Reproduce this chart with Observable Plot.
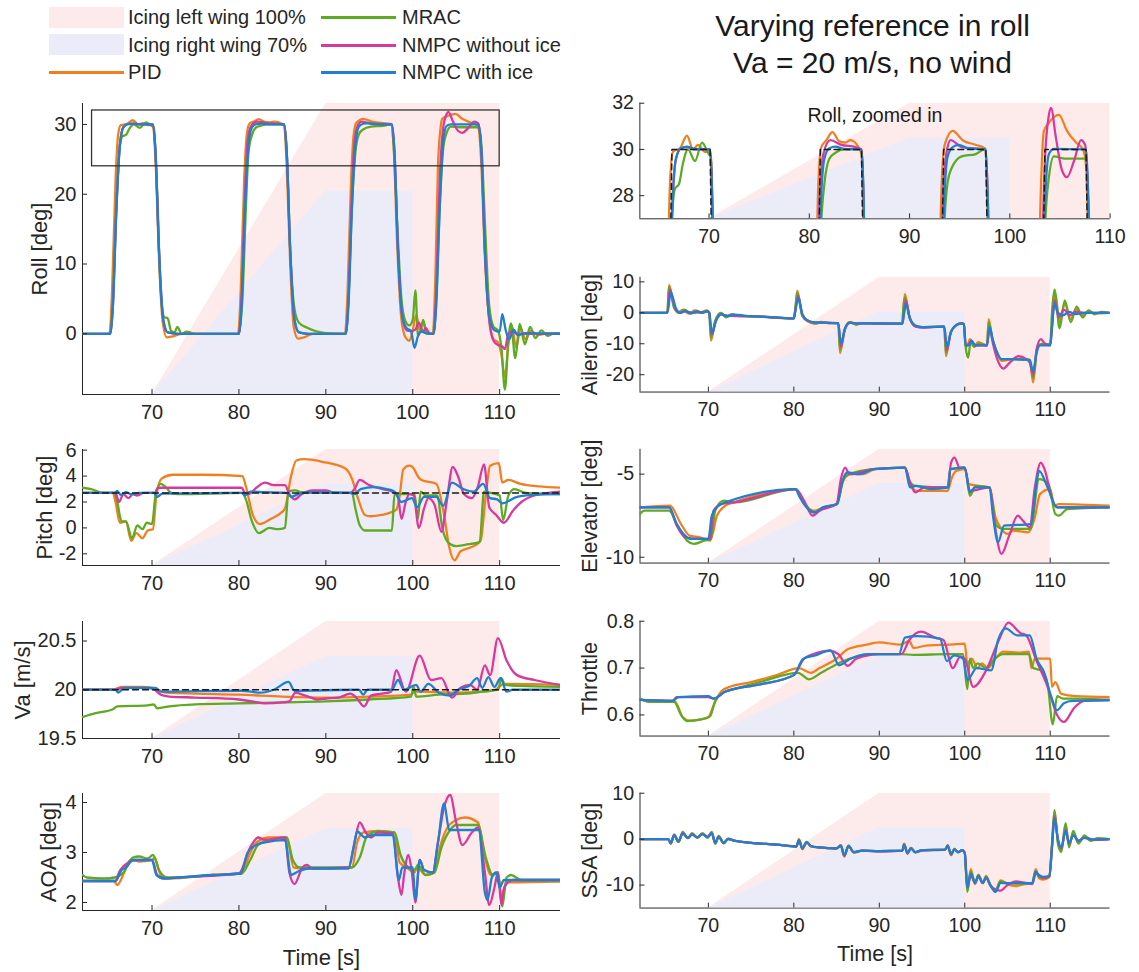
<!DOCTYPE html>
<html><head><meta charset="utf-8">
<script src="https://cdn.jsdelivr.net/npm/d3@7"></script>
<script src="https://cdn.jsdelivr.net/npm/@observablehq/plot@0.6"></script>
<style>
body{margin:0;background:#fff;font-family:"Liberation Sans",Arial,Helvetica,sans-serif;color:#262626}
#root{position:relative;width:1139px;height:972px;overflow:hidden;background:#fff}
.pnl{position:absolute}
.lg{position:absolute;font-size:20px;line-height:22px;transform:translateY(-50%);white-space:nowrap}
.sw{position:absolute}
#title{position:absolute;left:600px;width:545px;top:7px;text-align:center;font-size:30px;line-height:37px;color:#1a1a1a}
</style></head><body><div id="root"></div>
<script>
// ---------- labels / ticks ----------
const seriesNames = ["PID", "MRAC", "NMPC without ice", "NMPC with ice"];
const seriesColors = ["#F0801E", "#5DAA23", "#D63A9C", "#2080CE"];
const icingNames = ["Icing left wing 100%", "Icing right wing 70%"];
const icingColors = ["#fdeaea", "#ebebf9"];
const xTicks = [70, 80, 90, 100, 110];
// icing ramps: time and fraction of axis height
const icingLeftT = [70, 90, 110], icingLeftLevel = [0, 1, 1];
const icingRightT = [70, 90, 100], icingRightLevel = [0, 0.7, 0.7];

// ---------- Roll ----------
const rollRef = [[62,0],[65.2,0],[66.3,30],[70.1,30],[71.2,0],[80.0,0],[81.1,30],[85.2,30],[86.3,0],[92.3,0],[93.4,30],[97.6,30],[98.7,0],[102.4,0],[103.5,30],[107.6,30],[108.7,0],[117,0]];
const rollPID = [[62,0],[65.1,0],[65.4,6],[65.8,22],[66.1,28.5],[66.4,29.9],[67.1,30.05],[67.8,30.6],[68.4,30.0],[68.9,30.2],[69.6,29.9],[70.1,29.9],[70.4,25],[70.8,11],[71.2,2],[71.7,-0.5],[72.3,-0.4],[73.5,0],
 [79.9,0],[80.2,6],[80.6,22],[80.9,28.5],[81.2,30.1],[81.7,30.4],[82.3,30.75],[83.0,30.35],[83.6,30.3],[84.1,30.4],[84.9,30.1],[85.2,29.8],[85.5,24],[85.9,10],[86.3,1],[86.8,-0.7],[87.5,-0.5],[88.5,0],
 [92.2,0],[92.5,6],[92.9,22],[93.2,28.5],[93.5,30.2],[94.3,30.8],[95.3,30.4],[96.6,30.2],[97.5,30.05],[97.8,27],[98.2,13],[98.7,2],[99.2,-0.6],[99.6,-1],[100.0,0.5],[100.4,2.7],[100.8,0.6],[101.2,1.6],[101.6,0.2],[102.3,0],
 [102.6,8],[102.9,24],[103.2,29.5],[103.4,30.8],[103.8,31.1],[104.9,31.5],[105.7,30.8],[106.6,30.3],[107.3,30.0],[107.6,29.3],[107.9,24],[108.3,11],[108.8,2],[109.3,-0.8],[109.8,-1.2],[110.2,-3],[110.6,-6.2],[111.0,-1.5],[111.4,1.2],[111.9,-2],[112.4,0.8],[113.0,-0.8],[113.6,0.4],[114.4,-0.2],[115.5,0.1],[117,0]];
const rollMRAC = [[62,0],[65.2,0],[65.5,5],[65.9,18],[66.3,27],[66.6,28.3],[67.0,28.5],[67.4,29.4],[67.9,30.0],[68.6,29.5],[69.3,30.3],[69.9,29.85],[70.2,29.6],[70.6,20],[71.0,6],[71.4,2.4],[71.8,2.2],[72.2,0.4],[72.6,0.2],[72.9,1],[73.4,0],[74,0.3],[75,0],
 [80.0,0],[80.4,5],[80.8,18],[81.1,26],[81.5,28.5],[82.0,29.6],[82.6,29.85],[83.5,30],[85.2,30],[85.5,26],[85.9,12],[86.4,3.5],[86.9,1.6],[87.8,0.9],[88.8,0.4],[90,0.1],[92.3,0],
 [92.6,5],[93.0,18],[93.4,26],[93.8,28.6],[94.2,29.2],[95.2,29.7],[96.6,29.8],[97.5,30],[97.8,27],[98.2,16],[98.7,5],[99.1,2],[99.6,1.2],[100.0,2],[100.3,6.2],[100.6,-0.3],[100.9,0.5],[101.2,2],[101.6,0],[102.4,0],
 [102.7,5],[103.1,18],[103.5,26.5],[103.9,28.8],[104.4,29.7],[105.5,29.6],[107.6,29.6],[107.9,27],[108.3,16],[108.8,4],[109.3,1],[109.8,0.5],[110.2,-2],[110.6,-8],[111.0,-1],[111.3,1.5],[111.8,-3.5],[112.3,1.4],[112.9,-1.5],[113.5,1],[114.1,-0.6],[114.8,0.5],[115.5,-0.3],[116.3,0.1],[117,0]];
const rollNMPCwo = [[62,0],[65.2,0],[65.5,4],[65.9,18],[66.3,27],[66.7,29.6],[67.2,30.05],[67.8,30.1],[68.6,30],[70.1,30],[70.4,26],[70.8,12],[71.3,2],[71.8,0.2],[73,0],
 [80.0,0],[80.3,5],[80.7,20],[81.0,27.5],[81.4,29.8],[82.1,30.4],[83.2,30.2],[84.6,30.1],[85.2,30],[85.5,26],[85.9,12],[86.4,2],[86.9,0.2],[88,0],
 [92.3,0],[92.6,5],[93.0,20],[93.3,27.5],[93.7,29.9],[94.1,30.4],[95.2,30.1],[97.6,30],[97.9,26],[98.3,12],[98.8,2.5],[99.3,0.5],[99.8,0.4],[100.3,0.6],[100.7,1.6],[101.2,0.3],[101.5,0.8],[102.0,0],[102.4,0],
 [102.7,6],[103.1,22],[103.5,29.5],[103.9,31.5],[104.1,31.8],[104.6,30.5],[105.2,29.1],[105.7,28.8],[106.4,29.5],[107.1,30.4],[107.5,30.2],[107.9,26],[108.3,12],[108.8,2],[109.3,-1],[109.8,-1.6],[110.3,-1.8],[110.6,-2.2],[111.0,0],[111.5,0.3],[112,0],[117,0]];
const rollNMPC = [[62,0],[65.2,0],[65.5,4],[65.9,18],[66.3,27],[66.7,29.6],[67.2,30.05],[67.8,30.12],[68.6,30.02],[70.1,30],[70.4,26],[70.8,12],[71.3,2],[71.8,0.2],[73,0],
 [80.0,0],[80.3,4],[80.7,18],[81.1,27],[81.5,29.6],[82.0,30.05],[82.6,30.12],[83.5,30.02],[85.2,30],[85.5,26],[85.9,12],[86.4,2],[86.9,0.2],[88,0],
 [92.3,0],[92.6,4],[93.0,18],[93.4,27],[93.8,29.7],[94.3,30.1],[94.9,30.2],[95.8,30.05],[97.6,30],[97.9,26],[98.3,12],[98.8,2.5],[99.3,0.8],[99.8,0.4],[100.2,-2],[100.6,-0.3],[101.0,0.3],[101.5,0.1],[102.4,0],
 [102.7,4],[103.1,18],[103.5,27.5],[103.9,29.8],[104.4,30.02],[107.6,30],[107.9,26],[108.3,12],[108.8,2.5],[109.4,0.5],[110.0,0.3],[110.3,2.8],[110.7,0.5],[111.1,-0.8],[111.6,0.6],[112.1,-0.2],[113,0.1],[117,0]];
const zoomBox = [{t0: 63.1, t1: 110, lo: 24, hi: 32}];

// ---------- Aileron ----------
const ailPID = [[62,0],[65.2,0],[65.4,9],[66,2],[66.5,0.2],[67,1],[67.7,-0.3],[68.4,0.8],[69,0],[69.8,0.8],[70.1,0],[70.3,-9],[70.8,-3],[71.4,0],[72,-1.3],[72.7,-0.4],[73.5,-1],[76,-1.2],[80,-1.8],[80.2,2],[80.4,7.2],[81,-1],[81.6,-2.7],[82.4,-3.4],[83.2,-2.9],[84,-3.3],[85.2,-3.3],[85.4,-13],[85.9,-6],[86.5,-3],[87.3,-3.8],[88,-3.3],[92.7,-3.5],[92.8,1],[93,6],[93.5,-1],[94.2,-4.3],[95,-4.6],[97.6,-4.5],[97.8,-14],[98.3,-7],[99,-4],[99.6,-3.4],[99.9,-3.7],[100.1,-11],[100.4,-10],[100.6,-8.5],[101.0,-10.8],[101.6,-9.5],[102.6,-10.5],[102.8,-2],[103.2,-8],[103.8,-13],[104.3,-15.5],[105.5,-15],[106.5,-14.8],[107.6,-15.3],[108,-22.5],[108.5,-11],[109,-10],[110,-10.2],[110.3,0],[110.6,6],[111.1,-3],[111.7,3],[112.4,-2],[113,1.2],[113.7,-1],[114.4,0.5],[115.2,-0.2],[117,0]];
const ailMRAC = [[62,0],[65.2,0],[65.4,8.5],[66,1.5],[66.6,0],[67.2,1],[67.9,-0.2],[68.6,0.7],[69.3,0],[69.9,0.7],[70.1,0],[70.3,-8],[70.8,-2.5],[71.5,0],[72.1,-1.5],[72.8,-0.5],[73.6,-1.1],[76,-1.2],[80,-1.8],[80.2,2],[80.4,6.5],[81,-1],[81.7,-2.6],[82.5,-3.5],[83.3,-3],[84,-3.3],[85.2,-3.3],[85.4,-12],[85.9,-6],[86.5,-3],[87.3,-3.8],[88,-3.3],[92.7,-3.5],[92.8,1],[93,5],[93.5,-1],[94.2,-4.3],[95,-4.6],[97.6,-4.5],[97.8,-13],[98.3,-7],[99,-4],[99.6,-3.4],[99.9,-3.7],[100.1,-11],[100.4,-14.5],[100.7,-9],[101.1,-11],[101.6,-10],[102.6,-10.5],[102.8,-3],[103.2,-8],[103.8,-13],[104.3,-15],[105.5,-15],[107.6,-15.2],[108,-21],[108.5,-11],[109,-10],[110,-10.2],[110.2,0],[110.5,7.5],[111.1,-5],[111.7,4],[112.4,-3],[113.1,2],[113.8,-1.5],[114.5,0.8],[115.2,-0.5],[116,0.3],[117,0]];
const ailNMPCwo = [[62,0],[65.2,0],[65.5,7.5],[66.1,1.5],[66.7,0],[67.3,0.5],[68.2,0],[69.9,0.4],[70.1,0],[70.4,-7],[70.9,-2.5],[71.5,-0.5],[72.2,-1],[75,-1.1],[80,-1.8],[80.2,1],[80.5,5.5],[81,-0.5],[81.6,-2.5],[82.5,-3.2],[85.2,-3.3],[85.5,-11],[86,-5],[86.6,-3.2],[87.5,-3.4],[92.7,-3.5],[92.9,0],[93.1,4],[93.6,-2],[94.3,-4.5],[95,-4.8],[97.6,-4.5],[97.9,-12],[98.4,-6],[99,-4],[99.6,-3.4],[99.9,-3.6],[100.1,-10.5],[100.5,-10],[100.8,-9],[101.2,-10.5],[102.6,-10.5],[102.9,-5],[103.3,-10],[103.8,-15],[104.5,-18],[105.3,-16],[106.3,-14],[107.2,-15],[107.6,-16],[108,-20],[108.4,-12],[108.9,-8.5],[109.4,-10],[110,-10.5],[110.2,-5],[110.5,4],[111,-1.5],[111.6,1],[112.3,-0.8],[113,0.3],[114,0],[117,0]];
const ailNMPC = [[62,0],[65.2,0],[65.6,6.5],[66.2,1.5],[66.7,0],[67.3,0.6],[68,-0.2],[68.6,0.4],[69.3,0],[69.9,0.5],[70.1,0],[70.4,-6.5],[70.9,-2.5],[71.5,-0.5],[72.2,-1],[73,-0.6],[75,-1.1],[78,-1.5],[80,-1.8],[80.2,1],[80.5,4.8],[81,-0.5],[81.6,-2.5],[82.5,-3.1],[84,-3.2],[85.2,-3.3],[85.5,-10],[86,-5],[86.6,-3.2],[87.5,-3.4],[92.7,-3.5],[92.9,0],[93.1,3],[93.6,-2],[94.3,-4.2],[95,-4.6],[97.6,-4.5],[97.9,-11],[98.4,-6],[99,-4],[99.6,-3.4],[99.9,-3.6],[100.1,-10.5],[100.5,-10.5],[100.8,-9],[101.2,-10.5],[102.6,-10.5],[102.9,-4.5],[103.3,-9],[103.8,-13],[104.3,-15],[105.5,-15],[107.6,-15.2],[108,-19],[108.4,-13],[108.8,-10.5],[110,-10.5],[110.2,-5],[110.5,3],[110.9,0],[111.5,-0.8],[112.2,0.3],[113,-0.4],[114,0],[117,0]];

// ---------- Pitch ----------
const pitchRef = [[62,2.7],[117,2.7]];
const pitchPID = [[62,2.7],[65.5,2.7],[65.8,2.0],[66.3,0.4],[67.0,0.5],[67.6,-1.0],[68.2,-0.4],[68.9,-0.8],[69.5,-0.2],[70.1,-0.1],[70.5,2.5],[71.1,3.8],[72.4,4.1],[75.8,4.1],[80.4,4.0],[80.8,3.2],[81.6,1.0],[82.4,0.3],[83.7,0.7],[84.9,1.2],[85.3,1.5],[86.0,4.0],[86.6,5.2],[87.5,5.3],[89.6,5.1],[92.2,4.6],[93.0,3.8],[93.6,2.5],[94.5,1.0],[95.1,0.9],[96.4,1.0],[98.1,1.4],[98.5,2.5],[98.9,4.5],[99.6,4.8],[100.2,4.5],[100.4,4.2],[101.0,3.7],[102.7,3.4],[103.6,1.0],[104.2,-1.5],[104.8,-2.5],[105.5,-1.8],[106.7,-1.5],[107.8,-1.0],[108.4,2.5],[108.9,4.8],[109.9,5.0],[110.3,3.5],[111.0,3.7],[112.4,3.4],[114.5,3.2],[117,3.1]];
const pitchMRAC = [[62,3.1],[63,3.0],[64.3,2.7],[65.7,2.7],[66.0,2.0],[66.5,0.5],[67.0,0.5],[67.7,-0.8],[68.3,0.2],[68.9,-0.1],[69.4,0.4],[70.0,0.3],[70.4,2.5],[71.0,3.4],[71.5,3.2],[72.2,2.7],[73,2.6],[80.4,2.7],[80.8,2.2],[81.5,0.5],[82.3,-0.4],[83.5,0],[84.5,-0.1],[85.3,0],[85.7,2.8],[86.5,2.9],[87.2,2.75],[93.0,2.7],[93.4,1.5],[93.9,0.2],[94.5,-0.2],[97.6,-0.2],[97.9,2.6],[100.2,2.6],[100.6,0.7],[100.9,2.8],[101.5,2.5],[102.8,2.5],[103.4,0],[104.2,-1.2],[105.0,-1.4],[106.0,-1.3],[107.7,-1.1],[108.2,2.8],[109.0,2.7],[110.0,2.5],[110.4,0.6],[111.0,2.5],[111.7,3.0],[113.0,2.7],[117,2.6]];
const pitchNMPCwo = [[62,2.7],[65.8,2.7],[66.2,2.0],[66.7,2.6],[67.3,2.3],[67.8,2.6],[68.3,2.5],[69,2.7],[70.3,2.7],[70.7,3.1],[71.5,3.1],[80.3,3.1],[80.7,2.7],[81.1,2.6],[82.0,3.1],[83.0,3.5],[84.0,3.3],[85.3,3.3],[85.8,2.6],[86.4,2.2],[87.2,2.6],[88.5,2.9],[90,2.9],[91,2.7],[92.8,2.7],[93.3,3.0],[93.9,3.7],[95,3.3],[96.5,3.0],[97.7,2.8],[98.3,2.4],[98.7,0.7],[99.2,2.0],[99.6,2.6],[100.1,2.5],[100.7,0],[101.3,1.5],[101.8,2.3],[102.5,1.8],[103.3,-0.3],[103.9,2.0],[104.6,4.7],[105.2,4.0],[105.9,2.6],[106.8,2.3],[107.5,3.2],[108.2,4.9],[108.8,1.6],[109.6,1.0],[110.5,0.4],[111.5,1.3],[112.5,2.0],[114,2.5],[117,2.8]];
const pitchNMPC = [[62,2.7],[65.7,2.7],[66.0,2.85],[66.4,2.55],[67.0,2.75],[67.6,2.6],[68.5,2.7],[70.2,2.7],[70.6,2.4],[71.2,2.65],[80.3,2.7],[80.7,2.5],[81.3,2.8],[83,2.75],[85.5,2.7],[86.0,2.4],[86.8,2.6],[88,2.75],[92.8,2.7],[93.3,2.6],[94.0,3.0],[95.5,3.15],[97.0,3.0],[97.9,2.8],[98.7,2.0],[99.9,2.3],[100.5,1.6],[101.3,2.4],[102.7,2.4],[103.5,1.7],[104.5,3.5],[105.8,3.0],[107.0,2.8],[108.1,3.4],[108.9,2.3],[109.7,2.2],[110.3,1.9],[112.0,2.4],[114,2.55],[117,2.6]];

// ---------- Elevator ----------
const elevPID = [[62,-7.0],[65.5,-6.9],[66.8,-8.0],[67.8,-8.7],[69.0,-8.8],[70.2,-9.0],[70.5,-8.6],[71.0,-7.5],[72.0,-6.9],[73.0,-6.7],[80.2,-5.9],[81.2,-6.8],[82.4,-7.2],[83.5,-7.0],[85.0,-6.8],[85.8,-5.4],[86.5,-5.0],[88.0,-5.0],[89.5,-4.7],[93.0,-4.6],[93.6,-5.5],[94.3,-6.0],[98.0,-6.0],[98.5,-5.2],[99.0,-4.8],[100.0,-4.7],[100.5,-5.6],[102.9,-5.8],[103.6,-7.6],[104.3,-8.3],[105.0,-8.6],[105.7,-8.4],[107.4,-8.5],[108.2,-7.6],[108.8,-6.2],[110.0,-5.9],[110.5,-6.9],[111.0,-6.8],[117,-6.9]];
const elevMRAC = [[62,-7.4],[62.5,-7.2],[65.4,-7.2],[66.3,-8.0],[67.5,-9.0],[68.3,-9.2],[69.5,-9.0],[70.3,-8.9],[70.8,-7.2],[71.8,-6.6],[73.0,-6.7],[80.2,-5.9],[81.5,-6.9],[82.3,-7.3],[83.5,-7.0],[85.0,-6.8],[85.8,-5.3],[86.5,-5.0],[89.3,-4.7],[93.0,-4.6],[93.5,-5.4],[94.2,-5.7],[98.0,-5.8],[98.3,-4.7],[100.0,-4.6],[100.6,-6.3],[101.3,-5.7],[102.9,-5.8],[103.7,-8.1],[104.5,-8.3],[107.7,-8.3],[108.7,-5.3],[109.8,-5.6],[110.6,-7.4],[111.0,-7.5],[112.0,-7.1],[117,-7.0]];
const elevNMPCwo = [[62,-7.0],[65.4,-7.0],[66.3,-8.1],[67.3,-8.8],[69.0,-8.9],[70.2,-8.9],[70.6,-7.2],[71.5,-6.8],[73.0,-6.7],[80.2,-5.9],[81.2,-6.6],[82.2,-7.5],[83.0,-7.2],[85.0,-6.8],[85.5,-5.3],[86.0,-4.6],[86.5,-5.0],[89.3,-4.7],[93.0,-4.6],[93.6,-5.5],[94.2,-6.1],[95.3,-5.8],[98.0,-5.8],[98.4,-4.3],[98.8,-4.0],[99.4,-4.6],[100.0,-4.6],[100.6,-6.0],[102.9,-5.8],[103.5,-8.0],[104.3,-9.8],[105.2,-8.7],[106.2,-7.5],[106.8,-7.8],[107.6,-8.2],[108.2,-5.8],[108.9,-4.3],[109.4,-4.8],[110.2,-6.5],[110.9,-7.0],[117,-7.0]];
const elevNMPC = [[62,-7.0],[65.4,-7.0],[66.3,-8.0],[67.1,-8.6],[67.9,-8.9],[70.0,-8.9],[70.4,-7.5],[71.2,-6.9],[72.0,-6.7],[80.2,-5.9],[80.6,-6.3],[81.9,-7.2],[82.5,-7.3],[83.4,-7.0],[85.1,-6.8],[85.7,-5.4],[86.3,-4.9],[87.6,-5.0],[89.3,-4.7],[93.0,-4.6],[93.6,-5.8],[94.3,-5.7],[96.0,-5.9],[98.1,-5.8],[98.3,-4.7],[100.0,-4.6],[100.6,-6.1],[101.2,-5.8],[102.9,-5.8],[103.3,-7.5],[103.9,-9.1],[104.6,-8.1],[107.7,-8.0],[108.5,-5.2],[108.7,-4.8],[109.7,-5.8],[110.8,-7.0],[117,-7.0]];

// ---------- Va ----------
const vaRef = [[62,20],[117,20]];
const vaPID = [[62,20.0],[65.5,20.0],[66.5,20.03],[69,20.03],[70.5,20.01],[71.5,19.97],[75,19.96],[80,19.95],[85,19.93],[90,19.92],[95,19.93],[99.8,19.95],[100.2,19.98],[105,19.97],[108,19.98],[109.5,20.0],[110.5,20.06],[117,20.05]];
const vaMRAC = [[62,19.72],[63.5,19.76],[65.5,19.8],[66,19.83],[69.5,19.84],[70.2,19.85],[70.6,19.81],[72,19.83],[75,19.85],[80,19.86],[85,19.87],[90,19.88],[95,19.9],[99.8,19.93],[100.1,20.03],[100.4,19.93],[103,19.95],[106,19.96],[108,19.98],[109.8,20.0],[110.2,20.12],[110.6,20.05],[112,20.04],[117,20.03]];
const vaNMPCwo = [[62,20.0],[65.7,20.0],[66.5,20.02],[69.5,20.02],[70.3,20.0],[71,19.95],[72,19.93],[75,19.92],[80,19.9],[81.5,19.88],[83,19.86],[85,19.87],[85.8,19.88],[86.5,19.97],[87.3,19.95],[88.3,19.92],[89,19.9],[90,19.91],[91.5,19.92],[92.8,19.96],[93.5,19.92],[94.4,19.83],[95.2,19.94],[96.5,19.96],[97.5,19.98],[98.1,20.2],[99.2,19.98],[100.8,20.35],[102.1,20.1],[103.3,20.12],[104.5,19.92],[105.5,20.02],[106.6,20.05],[107.4,20.0],[108.3,20.25],[108.9,20.15],[109.8,20.53],[110.8,20.3],[112.0,20.15],[114,20.1],[117,20.05]];
const vaNMPC = [[62,20.0],[65.8,20.0],[66.1,19.97],[66.8,20.02],[70.4,20.02],[71,19.98],[80.3,19.99],[82.5,19.97],[84,20.0],[85.7,20.08],[86.4,19.99],[93.8,20.0],[94.3,19.95],[94.8,20.0],[97.6,20.0],[98.3,20.1],[99.0,20.0],[100.4,20.05],[100.9,19.98],[101.8,20.06],[103.0,19.97],[104.3,19.94],[105.2,20.0],[106.5,20.04],[107.4,20.12],[108.0,20.02],[108.7,20.13],[109.4,20.03],[110.1,20.12],[110.8,19.98],[111.5,20.0],[117,20.0]];

// ---------- Throttle ----------
const thrPID = [[62,0.632],[66,0.63],[66.4,0.62],[67.0,0.595],[67.8,0.588],[69,0.59],[70.0,0.595],[70.6,0.62],[71.5,0.65],[72.5,0.66],[75,0.67],[78,0.685],[80.6,0.7],[82,0.69],[83,0.7],[85,0.72],[86.3,0.74],[88.5,0.75],[90,0.755],[92.5,0.75],[93.5,0.758],[94,0.743],[95.5,0.748],[98,0.75],[100,0.752],[100.3,0.71],[100.8,0.72],[101.5,0.7],[102,0.71],[102.7,0.7],[103.8,0.725],[104.5,0.735],[106.5,0.733],[107.5,0.735],[107.8,0.7],[108.2,0.72],[110,0.72],[110.2,0.66],[110.6,0.67],[111.3,0.645],[113,0.64],[117,0.638]];
const thrMRAC = [[62,0.635],[63,0.628],[66,0.628],[66.8,0.6],[67.5,0.587],[69,0.59],[70.2,0.597],[70.8,0.63],[71.5,0.645],[73,0.655],[76,0.67],[80.5,0.69],[81.8,0.676],[83.2,0.69],[85.2,0.71],[86.5,0.72],[90,0.73],[92.5,0.73],[94,0.728],[98,0.73],[99.8,0.73],[100.3,0.655],[100.6,0.72],[101,0.7],[101.5,0.71],[102.5,0.7],[103.5,0.72],[104.5,0.73],[107.5,0.73],[108,0.7],[109,0.695],[109.7,0.665],[110.3,0.58],[110.8,0.64],[111.5,0.635],[113,0.635],[117,0.632]];
const thrNMPCwo = [[62,0.632],[65.8,0.63],[66.3,0.638],[70.0,0.638],[70.6,0.635],[72,0.65],[76,0.665],[80.0,0.685],[81.2,0.72],[82.8,0.733],[84.2,0.737],[85.2,0.73],[86.3,0.705],[87.3,0.72],[90,0.73],[92.6,0.73],[93.5,0.76],[94.9,0.778],[96.5,0.765],[97.5,0.76],[98.6,0.7],[99.5,0.725],[100.0,0.72],[101.0,0.66],[102.5,0.695],[104.0,0.76],[105.1,0.797],[106.5,0.775],[107.2,0.77],[108.3,0.72],[109.7,0.66],[110.8,0.6],[111.6,0.585],[112.8,0.615],[114,0.63],[117,0.632]];
const thrNMPC = [[62,0.632],[65.8,0.63],[66.5,0.638],[70.0,0.64],[70.6,0.635],[72,0.65],[76,0.665],[80.0,0.685],[81.1,0.72],[82.5,0.727],[84.3,0.738],[85.3,0.706],[86.6,0.72],[88.7,0.73],[92.3,0.73],[93.0,0.765],[94.4,0.768],[97.1,0.763],[97.9,0.715],[98.8,0.727],[99.8,0.72],[100.3,0.675],[101.4,0.7],[103.1,0.695],[103.9,0.76],[104.8,0.785],[106.1,0.77],[107.6,0.77],[108.4,0.72],[109.3,0.69],[110.1,0.64],[110.8,0.61],[111.6,0.625],[112.6,0.63],[117,0.631]];

// ---------- AOA ----------
const aoaPID = [[62,2.43],[65.6,2.43],[66.0,2.35],[66.8,2.6],[67.5,2.85],[68.5,2.82],[70.0,2.85],[70.3,2.9],[71.0,2.55],[72.0,2.48],[77,2.55],[80.3,2.58],[81.2,2.95],[82.0,3.2],[83.5,3.3],[85.5,3.3],[86.3,2.7],[87.5,2.68],[93.0,2.7],[93.6,3.2],[94.3,3.4],[96.0,3.43],[97.9,3.4],[98.5,2.8],[99.3,2.7],[100.2,2.6],[100.5,2.7],[101.5,2.55],[102.5,2.6],[103.2,3.15],[104.0,3.5],[105.0,3.65],[106.0,3.7],[107.5,3.6],[108.3,2.9],[109.0,2.55],[109.8,2.6],[110.2,2.1],[110.8,2.4],[117,2.42]];
const aoaMRAC = [[62,2.55],[62.5,2.5],[64.5,2.48],[65.7,2.5],[66.7,2.6],[67.8,2.9],[68.5,2.92],[69.5,2.88],[70.1,2.95],[70.8,2.65],[71.8,2.5],[73,2.5],[77,2.55],[80.3,2.58],[81.3,2.85],[82.2,3.15],[83.5,3.25],[85.5,3.3],[86.2,2.85],[87.0,2.7],[93.0,2.7],[93.9,2.9],[94.8,3.35],[96.0,3.42],[97.9,3.4],[98.6,2.95],[99.5,2.7],[100.2,2.65],[100.6,2.75],[101.5,2.55],[102.5,2.6],[103.3,3.1],[104.3,3.45],[105.0,3.55],[107.5,3.55],[108.4,2.9],[109.2,2.55],[109.8,2.6],[110.3,1.92],[110.8,2.5],[111.3,2.55],[112.5,2.45],[117,2.45]];
const aoaNMPCwo = [[62,2.43],[65.8,2.43],[66.2,2.6],[67.3,2.8],[68,2.85],[70,2.85],[70.6,2.55],[71.3,2.48],[73,2.5],[80,2.58],[81.3,3.1],[82.2,3.3],[83,3.25],[85.3,3.3],[85.8,2.6],[86.4,2.37],[87.3,2.7],[87.8,2.75],[88.5,2.68],[92.6,2.7],[93.3,3.2],[93.9,3.6],[94.6,3.4],[95.2,3.3],[96,3.4],[97.7,3.38],[98.3,2.5],[98.7,2.15],[99.0,2.55],[99.5,2.95],[99.9,2.6],[100.3,2.0],[100.8,2.85],[101.3,2.65],[102.3,2.6],[102.9,3.2],[103.6,3.9],[104.3,4.15],[105.0,3.6],[105.7,3.15],[106.8,3.4],[107.5,3.5],[108.3,2.6],[108.8,1.95],[109.4,2.3],[109.8,2.6],[110.2,1.95],[110.5,2.3],[111.5,2.45],[117,2.45]];
const aoaNMPC = [[62,2.43],[65.8,2.43],[66.5,2.65],[67,2.7],[67.8,2.85],[70.0,2.85],[70.5,2.55],[71.5,2.48],[73,2.5],[77,2.55],[80.2,2.58],[81.0,3.0],[82.0,3.15],[83.0,3.2],[85.3,3.25],[86.0,2.55],[86.8,2.62],[88,2.68],[92.6,2.68],[93.2,3.1],[93.6,3.42],[94.5,3.3],[95.5,3.35],[97.7,3.35],[98.4,2.45],[98.8,2.7],[100.0,2.7],[100.3,2.05],[100.8,2.85],[101.3,2.65],[102.3,2.6],[102.9,3.2],[103.6,3.98],[104.2,3.45],[105,3.45],[107.6,3.45],[108.3,2.2],[108.6,2.05],[109.1,2.5],[109.6,2.6],[110.0,2.3],[110.5,2.45],[117,2.45]];

// ---------- SSA ----------
const ssaPID = [[62,0],[65.3,0],[65.6,-1.0],[66.0,1.0],[66.5,-0.6],[67.0,1.5],[67.6,0.2],[68.1,1.2],[68.7,0.3],[69.3,1.3],[69.9,0.4],[70.4,1.5],[70.8,-1.0],[71.2,0.6],[71.8,-0.9],[72.3,0.1],[73,-0.3],[75,-0.8],[78,-1.2],[80.3,-1.6],[80.6,0],[81.0,-2.2],[81.5,-0.6],[82.0,-1.6],[83,-1.8],[85,-2.0],[85.5,-1.3],[85.9,-3.8],[86.4,-1.4],[87.0,-2.9],[88,-2.5],[90,-2.6],[92.7,-2.5],[92.9,-1.0],[93.3,-3.2],[93.7,-1.9],[94.2,-2.9],[95,-2.4],[97.7,-2.3],[98.0,-1.3],[98.4,-3.5],[98.8,-2.1],[99.2,-2.9],[99.7,-2.4],[100.0,-3.0],[100.3,-11.0],[100.7,-6.5],[101.2,-9.8],[101.6,-7.8],[102.1,-9.6],[102.5,-8.0],[103.0,-10.0],[103.6,-11.0],[104.2,-9.0],[105,-9.8],[106,-10.2],[107,-9.8],[107.9,-9.5],[108.3,-6.5],[108.7,-8.5],[109.2,-8.8],[109.9,-8.2],[110.2,-1],[110.5,6],[110.9,-0.5],[111.3,-2.5],[111.8,3.2],[112.2,-1.5],[112.7,1.5],[113.3,-0.8],[114,0.6],[115,-0.2],[117,0]];
const ssaMRAC = [[62,0],[65.3,0],[65.6,-1.0],[66.0,1.0],[66.5,-0.6],[67.0,1.6],[67.6,0.2],[68.1,1.3],[68.7,0.3],[69.3,1.2],[69.9,0.3],[70.4,1.6],[70.8,-1.0],[71.2,0.7],[71.8,-0.9],[72.3,0.1],[73,-0.3],[75,-0.8],[78,-1.2],[80.3,-1.6],[80.6,-0.1],[81.0,-2.1],[81.5,-0.6],[82.0,-1.6],[83,-1.8],[85,-2.0],[85.5,-1.3],[85.9,-3.6],[86.4,-1.4],[87.0,-2.9],[88,-2.5],[90,-2.6],[92.7,-2.5],[92.9,-1.1],[93.3,-3.1],[93.7,-1.9],[94.2,-2.9],[95,-2.4],[97.7,-2.3],[98.0,-1.4],[98.4,-3.4],[98.8,-2.1],[99.2,-2.9],[99.7,-2.4],[100.0,-3.0],[100.3,-11.5],[100.7,-7.0],[101.2,-9.6],[101.6,-7.8],[102.1,-9.6],[102.5,-8.2],[103.0,-10.2],[103.6,-11.2],[104.2,-9.2],[105,-9.6],[107,-9.7],[107.9,-9.6],[108.3,-7.0],[108.7,-8.3],[109.2,-8.5],[109.9,-8.2],[110.2,-1.5],[110.5,6.3],[110.9,-1.0],[111.3,-2.8],[111.8,3.5],[112.2,-1.8],[112.7,1.8],[113.3,-1.0],[114,0.8],[114.7,-0.4],[115.5,0.2],[117,0]];
const ssaNMPCwo = [[62,0],[65.3,0],[65.6,-0.9],[66.0,0.9],[66.5,-0.5],[67.0,1.3],[67.6,0.3],[68.1,1.1],[68.7,0.4],[69.3,1.1],[69.9,0.5],[70.4,1.3],[70.8,-0.8],[71.2,0.5],[71.8,-0.8],[72.3,0],[73,-0.3],[75,-0.8],[78,-1.2],[80.3,-1.6],[80.6,-0.2],[81.0,-2.0],[81.5,-0.7],[82.0,-1.5],[83,-1.8],[85,-2.0],[85.5,-1.4],[85.9,-3.6],[86.4,-1.5],[87.0,-2.8],[88,-2.5],[90,-2.7],[92.7,-2.5],[92.9,-1.2],[93.3,-3.1],[93.7,-2.0],[94.2,-2.8],[95,-2.5],[97.7,-2.3],[98.0,-1.4],[98.4,-3.3],[98.8,-2.2],[99.2,-2.8],[99.7,-2.5],[100.0,-3.0],[100.3,-10.5],[100.7,-7.8],[101.2,-9.5],[101.6,-8.2],[102.1,-9.5],[102.5,-8.5],[103.0,-10.0],[103.6,-11.0],[104.2,-11.2],[105,-10.0],[106,-9.2],[107,-9.5],[107.9,-9.8],[108.3,-7.5],[108.7,-7.8],[109.2,-8.5],[109.9,-8.0],[110.2,-2],[110.5,5],[110.9,0],[111.3,-2.0],[111.8,2.0],[112.2,-1.0],[112.7,0.9],[113.3,-0.4],[114,0.3],[115,-0.1],[117,0]];
const ssaNMPC = [[62,0],[65.3,0],[65.6,-0.8],[66.0,0.8],[66.5,-0.5],[67.0,1.2],[67.6,0.3],[68.1,1.0],[68.7,0.4],[69.3,1.1],[69.9,0.5],[70.4,1.2],[70.8,-0.8],[71.2,0.5],[71.8,-0.8],[72.3,0],[73,-0.3],[75,-0.8],[78,-1.2],[80.3,-1.6],[80.6,-0.3],[81.0,-2.0],[81.5,-0.7],[82.0,-1.5],[83,-1.8],[85,-2.0],[85.5,-1.5],[85.9,-3.5],[86.4,-1.5],[87.0,-2.8],[88,-2.5],[90,-2.6],[92.7,-2.5],[92.9,-1.3],[93.3,-3.0],[93.7,-2.0],[94.2,-2.8],[95,-2.4],[97.7,-2.3],[98.0,-1.5],[98.4,-3.2],[98.8,-2.2],[99.2,-2.8],[99.7,-2.4],[100.0,-3.0],[100.3,-10.5],[100.7,-7.5],[101.2,-9.5],[101.6,-8.0],[102.1,-9.5],[102.5,-8.3],[103.0,-10.0],[103.6,-11.5],[104.2,-9.5],[105,-9.6],[107,-9.5],[107.9,-9.6],[108.3,-7.0],[108.7,-8.0],[109.2,-8.2],[109.9,-8.0],[110.2,-2],[110.5,4.5],[110.9,0],[111.3,-1.8],[111.8,1.8],[112.2,-0.8],[112.7,0.8],[113.3,-0.3],[114,0.3],[115,-0.1],[117,0]];

// ---------- layout ----------
const AX = "#262626";
const FONT = '"Liberation Sans", Arial, Helvetica, sans-serif';
const root = document.getElementById("root");
const ML = 80, MR = 30, MT = 14, MB = 62;

function panel(cfg) {
  const [fl, ft, fw, fh] = cfg.frame;
  const [y0, y1] = cfg.y;
  const [x0] = cfg.x;
  const band = (ts, lv) => ts.map((t, i) => ({t, lo: y0, hi: y0 + lv[i] * (y1 - y0)}));
  const line = (pts, stroke, extra = {}) => Plot.line(pts, {x: d => d[0], y: d => d[1], stroke, strokeWidth: 2.3, curve: "monotone-x", clip: true, ...extra});
  const marks = [
    Plot.ruleY([y0], {stroke: AX, strokeWidth: 1}),
    Plot.area(band(icingLeftT, icingLeftLevel), {x1: "t", y1: "lo", y2: "hi", fill: icingColors[0], fillOpacity: 0.93, clip: true}),
    Plot.area(band(icingRightT, icingRightLevel), {x1: "t", y1: "lo", y2: "hi", fill: icingColors[1], fillOpacity: 0.96, clip: true}),
    Plot.ruleX([x0], {stroke: AX, strokeWidth: 1})
  ];
  cfg.series.forEach((s, i) => marks.push(line(s, seriesColors[i])));
  if (cfg.ref) marks.push(line(cfg.ref, "#1a1a1a", {strokeWidth: 1.5, strokeDasharray: "6,4", curve: "linear"}));
  if (cfg.box) marks.push(Plot.rect(cfg.box, {x1: "t0", x2: "t1", y1: "lo", y2: "hi", fill: "none", stroke: "#333", strokeWidth: 1.3}));
  marks.push(
    Plot.axisX({ticks: xTicks, tickSize: -5, tickPadding: 15, tickFormat: d => String(d), label: null, fontSize: 20, fill: AX, stroke: AX}),
    Plot.axisY({ticks: cfg.yTicks, tickSize: -5, tickPadding: 11, tickFormat: d => String(d), label: null, fontSize: 20, fill: AX, stroke: AX})
  );
  if (cfg.label) marks.push(Plot.text([cfg.label], {text: d => d, frameAnchor: "left", textAnchor: "middle", lineAnchor: "middle", dx: -cfg.labelDx, rotate: -90, fontSize: 22, fill: AX}));
  if (cfg.note) marks.push(Plot.text([cfg.note], {text: d => d, frameAnchor: "top", lineAnchor: "middle", dy: 13, fontSize: 20, fill: "#1a1a1a"}));
  if (cfg.time) marks.push(Plot.text(["Time [s]"], {text: d => d, frameAnchor: "bottom", lineAnchor: "middle", dy: 47, fontSize: 22, fill: AX}));
  const svg = Plot.plot({
    width: fw + ML + MR, height: fh + MT + MB,
    marginLeft: ML, marginRight: MR, marginTop: MT, marginBottom: MB,
    x: {domain: cfg.x}, y: {domain: cfg.y},
    style: {fontFamily: FONT, fontSize: "20px", background: "transparent", overflow: "visible", color: AX},
    marks
  });
  const div = document.createElement("div");
  div.className = "pnl";
  div.style.left = (fl - ML) + "px";
  div.style.top = (ft - MT) + "px";
  div.appendChild(svg);
  root.appendChild(div);
}

const XL = [62, 117];
panel({frame: [82, 103, 478, 291], x: XL, y: [-8.7, 33], yTicks: [0, 10, 20, 30], label: "Roll [deg]", labelDx: 43,
  series: [rollPID, rollMRAC, rollNMPCwo, rollNMPC], box: zoomBox});
panel({frame: [641, 103, 480, 118], x: [63.1, 110], y: [27, 32], yTicks: [28, 30, 32], note: "Roll, zoomed in",
  series: [rollPID, rollMRAC, rollNMPCwo, rollNMPC], ref: rollRef});
panel({frame: [641, 277, 479, 117], x: XL, y: [-25.6, 11.5], yTicks: [-20, -10, 0, 10], label: "Aileron [deg]", labelDx: 51,
  series: [ailPID, ailMRAC, ailNMPCwo, ailNMPC]});
panel({frame: [82, 449, 478, 116], x: XL, y: [-2.9, 6.05], yTicks: [-2, 0, 2, 4, 6], label: "Pitch [deg]", labelDx: 38,
  series: [pitchPID, pitchMRAC, pitchNMPCwo, pitchNMPC], ref: pitchRef});
panel({frame: [641, 449, 479, 116], x: XL, y: [-10.35, -3.5], yTicks: [-10, -5], label: "Elevator [deg]", labelDx: 51,
  series: [elevPID, elevMRAC, elevNMPCwo, elevNMPC]});
panel({frame: [82, 621, 478, 117], x: XL, y: [19.5, 20.7], yTicks: [19.5, 20, 20.5], label: "Va [m/s]", labelDx: 60,
  series: [vaPID, vaMRAC, vaNMPCwo, vaNMPC], ref: vaRef});
panel({frame: [641, 621, 479, 117], x: XL, y: [0.555, 0.8], yTicks: [0.6, 0.7, 0.8], label: "Throttle", labelDx: 51,
  series: [thrPID, thrMRAC, thrNMPCwo, thrNMPC]});
panel({frame: [82, 793, 478, 117], x: XL, y: [1.84, 4.18], yTicks: [2, 3, 4], label: "AOA [deg]", labelDx: 34, time: true,
  series: [aoaPID, aoaMRAC, aoaNMPCwo, aoaNMPC]});
panel({frame: [641, 793, 479, 117], x: XL, y: [-15, 10], yTicks: [-10, 0, 10], label: "SSA [deg]", labelDx: 51, time: true,
  series: [ssaPID, ssaMRAC, ssaNMPCwo, ssaNMPC]});

// ---------- legend ----------
function add(html) { root.insertAdjacentHTML("beforeend", html); }
const rowY = [17, 45, 72];
add(`<div class="sw" style="left:49px;top:7px;width:75px;height:21px;background:${icingColors[0]}"></div>`);
add(`<div class="lg" style="left:128px;top:${rowY[0]}px">${icingNames[0]}</div>`);
add(`<div class="sw" style="left:49px;top:34px;width:75px;height:21px;background:${icingColors[1]}"></div>`);
add(`<div class="lg" style="left:128px;top:${rowY[1]}px">${icingNames[1]}</div>`);
const legPos = [[49, 128, rowY[2]], [321, 402, rowY[0]], [321, 402, rowY[1]], [321, 402, rowY[2]]];
seriesNames.forEach((n, i) => {
  const [lx, tx, y] = legPos[i];
  add(`<div class="sw" style="left:${lx}px;top:${y - 1}px;width:75px;height:3px;background:${seriesColors[i]}"></div>`);
  add(`<div class="lg" style="left:${tx}px;top:${y}px">${n}</div>`);
});
add(`<div id="title">Varying reference in roll<br>Va = 20 m/s, no wind</div>`);
</script></body></html>
